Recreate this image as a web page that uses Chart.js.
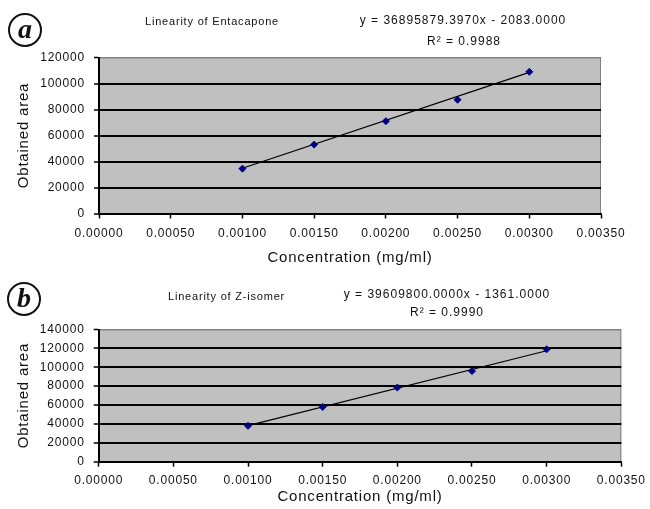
<!DOCTYPE html>
<html lang="en">
<head>
  <meta charset="UTF-8" />
  <title>Linearity of Entacapone and Z-isomer</title>
  <script src="https://cdn.jsdelivr.net/npm/chart.js"></script>
  <style>
    body {
      margin: 0;
      padding: 0;
      background: #fff;
      font-family: 'Liberation Sans', Arial, sans-serif;
    }

    .page {
      position: relative;
      width: 650px;
      height: 509px;
      overflow: hidden;
    }

    canvas {
      position: absolute;
      left: 0;
    }

    .txt {
      position: absolute;
      color: #111;
      line-height: 1;
      white-space: nowrap;
      transform: translate(-50%, -50%);
    }

    .title {
      font-size: 11px;
      letter-spacing: 0.8px;
      transform: translate(0, -50%);
    }

    .eq {
      font-size: 12px;
      letter-spacing: 1px;
    }

    .badge {
      position: absolute;
      width: 30px;
      height: 30px;
      border: 2px solid #111;
      border-radius: 50%;
      transform: translate(-50%, -50%);
      font-family: 'Liberation Serif', 'Times New Roman', serif;
      font-style: italic;
      font-weight: bold;
      font-size: 28px;
      line-height: 28px;
      text-align: center;
      color: #111;
    }
  </style>
</head>

<body>
  <div class="page">
    <!-- chart (a) -->
    <canvas id="chartA" width="650" height="270" style="top:0"></canvas>
    <div class="badge" style="left:25px; top:30px;">a</div>
    <div class="txt title" style="left:145px; top:21px;">Linearity of Entacapone</div>
    <div class="txt eq" style="left:463px; top:20px;">y = 36895879.3970x - 2083.0000</div>
    <div class="txt eq" style="left:464px; top:41px;">R² = 0.9988</div>

    <!-- chart (b) -->
    <canvas id="chartB" width="650" height="239" style="top:270px"></canvas>
    <div class="badge" style="left:24px; top:299px;">b</div>
    <div class="txt title" style="left:168px; top:296px;">Linearity of Z-isomer</div>
    <div class="txt eq" style="left:447px; top:294px;">y = 39609800.0000x - 1361.0000</div>
    <div class="txt eq" style="left:447px; top:312px;">R² = 0.9990</div>
  </div>

  <script>
    // Concentration levels (mg/ml)
    const concentration = [0.0010, 0.0015, 0.0020, 0.0025, 0.0030];

    // Obtained peak areas
    const areaEntacapone = [34500, 53000, 71000, 87500, 109000];
    const areaZIsomer = [38000, 58000, 78500, 96000, 119000];

    // Trendline end points
    const trendX = [0.0010, 0.0030];
    const trendEntacapone = [34800, 108600];
    const trendZIsomer = [38250, 117470];

    // Axis ticks
    const xTicks = [0, 0.0005, 0.0010, 0.0015, 0.0020, 0.0025, 0.0030, 0.0035];
    const yTicksA = [0, 20000, 40000, 60000, 80000, 100000, 120000];
    const yTicksB = [0, 20000, 40000, 60000, 80000, 100000, 120000, 140000];

    const textColor = '#111';
    const tickFont = { family: "'Liberation Sans', Arial, sans-serif", size: 12 };
    const titleFont = { family: "'Liberation Sans', Arial, sans-serif", size: 15 };

    // grey plot area with a thin border, like the spreadsheet chart
    const plotBackground = {
      id: 'plotBackground',
      beforeDraw(chart) {
        const { ctx, chartArea: a } = chart;
        ctx.save();
        ctx.fillStyle = '#c0c0c0';
        ctx.fillRect(a.left, a.top, a.right - a.left, a.bottom - a.top);
        ctx.strokeStyle = '#808080';
        ctx.lineWidth = 1;
        ctx.strokeRect(a.left + 0.5, a.top + 0.5, a.right - a.left - 1, a.bottom - a.top);
        ctx.restore();
        ctx.letterSpacing = '0.8px';
      }
    };

    function toPoints(xs, ys) {
      return xs.map((x, i) => ({ x: x, y: ys[i] }));
    }

    function makeChart(id, areas, trend, yTicks, box) {
      const yMax = yTicks[yTicks.length - 1];
      return new Chart(document.getElementById(id), {
        type: 'scatter',
        data: {
          datasets: [
            {
              data: toPoints(concentration, areas),
              pointStyle: 'rectRot',
              pointRadius: 3.5,
              backgroundColor: '#000080',
              borderColor: '#000080',
              showLine: false
            },
            {
              type: 'line',
              data: toPoints(trendX, trend),
              borderColor: '#000',
              borderWidth: 1.2,
              pointRadius: 0,
              fill: false
            }
          ]
        },
        options: {
          responsive: false,
          animation: false,
          layout: { padding: { left: 0, top: box.top, right: box.right, bottom: 0 } },
          plugins: { legend: { display: false }, tooltip: { enabled: false } },
          scales: {
            x: {
              type: 'linear',
              min: xTicks[0],
              max: xTicks[xTicks.length - 1],
              afterBuildTicks: s => { s.ticks = xTicks.map(v => ({ value: v })); },
              afterFit: s => { s.height = box.xHeight; },
              ticks: {
                color: textColor,
                font: tickFont,
                padding: box.xPad,
                maxRotation: 0,
                callback: v => Number(v).toFixed(5)
              },
              grid: { drawOnChartArea: false, tickLength: 5, tickColor: '#000', tickWidth: 1.5 },
              border: { color: '#000', width: 2 },
              title: {
                display: true,
                text: 'Concentration (mg/ml)',
                color: textColor,
                font: titleFont,
                padding: { top: 0, bottom: 3 }
              }
            },
            y: {
              min: 0,
              max: yMax,
              afterBuildTicks: s => { s.ticks = yTicks.map(v => ({ value: v })); },
              afterFit: s => { s.width = box.yWidth; },
              ticks: { color: textColor, font: tickFont, padding: 9, callback: v => String(v) },
              grid: {
                color: c => (c.tick && c.tick.value === yMax) ? '#808080' : '#000',
                lineWidth: c => (c.tick && c.tick.value === yMax) ? 1 : 2,
                tickLength: 5,
                tickColor: '#000',
                tickWidth: 1.5
              },
              border: { color: '#000', width: 2 },
              title: {
                display: true,
                text: 'Obtained area',
                color: textColor,
                font: titleFont,
                padding: { top: 15, bottom: 0 }
              }
            }
          }
        },
        plugins: [plotBackground]
      });
    }

    makeChart('chartA', areaEntacapone, trendEntacapone, yTicksA,
      { top: 57.5, right: 49, xHeight: 56.5, yWidth: 99, xPad: 8 });
    makeChart('chartB', areaZIsomer, trendZIsomer, yTicksB,
      { top: 59.5, right: 28.5, xHeight: 47.3, yWidth: 98.7, xPad: 7 });
  </script>
</body>
</html>
